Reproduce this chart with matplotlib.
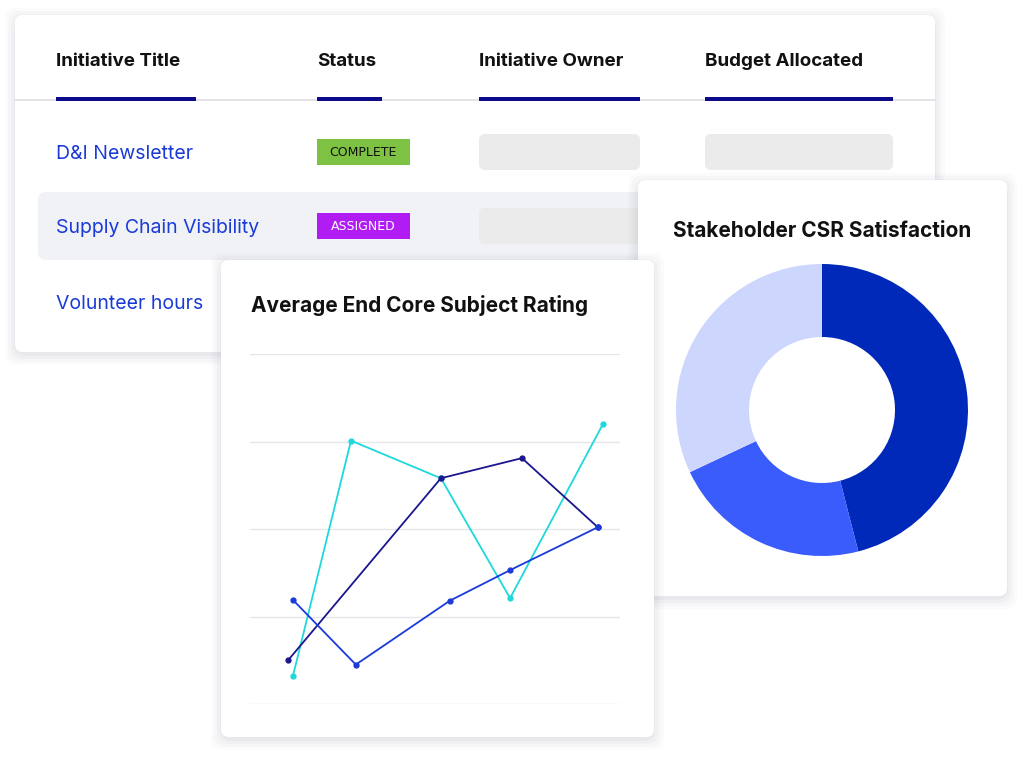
import matplotlib.pyplot as plt
from matplotlib.patches import FancyBboxPatch, Rectangle

W, H = 1024, 758

# table data
headers = ["Initiative Title", "Status", "Initiative Owner", "Budget Allocated"]
initiatives = ["D&I Newsletter", "Supply Chain Visibility", "Volunteer hours"]
statuses = ["COMPLETE", "ASSIGNED"]
status_colors = ["#7DC242", "#B11CF2"]

# line chart data
line_title = "Average End Core Subject Rating"
cyan_x = [1.16, 2.73, 5.16, 7.03, 9.54]
cyan_y = [0.32, 3.01, 2.58, 1.21, 3.20]
navy_x = [1.03, 5.16, 7.35, 9.40]
navy_y = [0.50, 2.58, 2.81, 2.02]
blue_x = [1.16, 2.86, 5.40, 7.03, 9.40]
blue_y = [1.19, 0.45, 1.18, 1.53, 2.02]

# donut data
donut_title = "Stakeholder CSR Satisfaction"
donut_vals = [46, 22, 32]
donut_colors = ["#0029B9", "#3A5CFC", "#CDD7FD"]

fig = plt.figure(figsize=(W / 100, H / 100), dpi=100)
bg = fig.add_axes([0, 0, 1, 1])
bg.set_xlim(0, W)
bg.set_ylim(H, 0)
bg.axis("off")


def card(x0, y0, x1, y1, z):
    for i, a in enumerate([0.03, 0.025, 0.02, 0.015]):
        d = 3 + i * 3
        bg.add_patch(FancyBboxPatch((x0 - d + 2, y0 - d + 5), x1 - x0 + 2 * d - 4, y1 - y0 + 2 * d - 4,
                                    boxstyle="round,pad=0,rounding_size=12", fc="#1a2040", ec="none",
                                    alpha=a, zorder=z))
    bg.add_patch(FancyBboxPatch((x0, y0), x1 - x0, y1 - y0, boxstyle="round,pad=0,rounding_size=8",
                                fc="white", ec="none", zorder=z + 0.5))


# table card
card(15, 15, 935, 352, 1)
hx = [56, 317, 479, 705]
bar_w = [140, 65, 161, 188]
for x, t, bw in zip(hx, headers, bar_w):
    bg.text(x, 61, t, fontsize=13.5, fontweight="bold", color="#111", va="center", zorder=3,
            family="Inter")
    bg.add_patch(Rectangle((x, 97), bw, 4, fc="#0D0B8C", ec="none", zorder=3.2))
bg.plot([15, 935], [100, 100], color="#DDDDE3", lw=1.2, zorder=3)
bg.add_patch(FancyBboxPatch((38, 192), 620, 68, boxstyle="round,pad=0,rounding_size=8",
                            fc="#F0F2F5", ec="none", zorder=2))
row_y = [152, 226, 302]
for y, t in zip(row_y, initiatives):
    bg.text(56, y + 2, t, fontsize=14, color="#1A3BD8", va="center", zorder=3, family="Inter")
for y, s, c in zip(row_y, statuses, status_colors):
    bg.add_patch(Rectangle((317, y - 13), 93, 26, fc=c, ec="none", zorder=3))
    bg.text(363, y, s, fontsize=9, color="#111" if s == "COMPLETE" else "white",
            ha="center", va="center", zorder=3.5)
    bg.add_patch(FancyBboxPatch((479, y - 18), 161, 36, boxstyle="round,pad=0,rounding_size=6",
                                fc="#EBEBEB", ec="none", zorder=3))
    bg.add_patch(FancyBboxPatch((705, y - 18), 188, 36, boxstyle="round,pad=0,rounding_size=6",
                                fc="#EBEBEB", ec="none", zorder=3))

# donut card
card(638, 180, 1007, 596, 5)
bg.text(822, 231, donut_title, fontsize=15, fontweight="bold", color="#111", ha="center",
        va="center", zorder=6, family="Inter")

# line card
card(221, 260, 654, 737, 7)
bg.text(251, 306, line_title, fontsize=15, fontweight="bold", color="#111", va="center",
        zorder=8, family="Inter")

ax = fig.add_axes([250 / W, 1 - 704 / H, 370 / W, 350 / H])
ax.set_xlim(0, 10)
ax.set_ylim(0, 4)
ax.patch.set_alpha(0)
for s in ax.spines.values():
    s.set_visible(False)
ax.set_xticks([])
ax.set_yticks([0, 1, 2, 3, 4])
ax.set_yticklabels([])
ax.tick_params(length=0)
ax.grid(axis="y", color="#E6E6EA", lw=1)
ax.plot(cyan_x, cyan_y, color="#1ED8DC", lw=1.3, marker="o", ms=3.5)
ax.plot(navy_x, navy_y, color="#1A168C", lw=1.3, marker="o", ms=3.5)
ax.plot(blue_x, blue_y, color="#1C3AD8", lw=1.3, marker="o", ms=3.5)

dax = fig.add_axes([(822 - 146) / W, 1 - (410 + 146) / H, 292 / W, 292 / H])
dax.pie(donut_vals, colors=donut_colors, startangle=90, counterclock=False,
        wedgeprops=dict(width=0.5, edgecolor="none"))
dax.set_xlim(-1, 1)
dax.set_ylim(-1, 1)
dax.set_aspect("equal")

fig.savefig("out.png", dpi=100)
